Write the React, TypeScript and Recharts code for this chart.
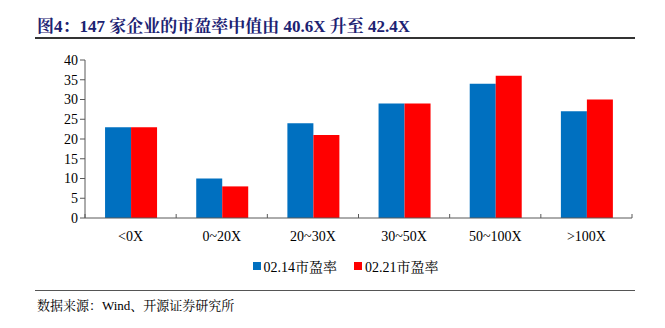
import { BarChart, Bar, XAxis, YAxis, Legend } from 'recharts'

const categories = ['<0X', '0~20X', '20~30X', '30~50X', '50~100X', '>100X']
const pe0214 = [23, 10, 24, 29, 34, 27]
const pe0221 = [23, 8, 21, 29, 36, 30]
const yTicks = [0, 5, 10, 15, 20, 25, 30, 35, 40]

const seriesNames = ['02.14市盈率', '02.21市盈率']
const BLUE = '#0070C0'
const RED = '#FF0000'
const AXIS = '#595959'
const SERIF = '"Times New Roman", "Liberation Serif", "Noto Serif CJK SC", "Noto Sans CJK SC", serif'

const data = categories.map((name, i) => ({ name, a: pe0214[i], b: pe0221[i] }))

// category label plus the small inward tick marks on the band edges
function CategoryTick(props: any) {
  const { x, y, payload, index } = props
  const half = payload.offset || 0
  const last = index === categories.length - 1
  return (
    <g>
      <line x1={x - half} x2={x - half} y1={y} y2={y - 4} stroke={AXIS} />
      {last && <line x1={x + half} x2={x + half} y1={y} y2={y - 4} stroke={AXIS} />}
      <text x={x} y={y + 23} textAnchor="middle" fill="#000" fontSize={14} fontFamily={SERIF}>
        {payload.value}
      </text>
    </g>
  )
}

function LegendContent() {
  const colors = [BLUE, RED]
  return (
    <div style={{ display: 'flex', justifyContent: 'center', gap: 17, fontFamily: SERIF, fontSize: 14, color: '#000', paddingLeft: 26 }}>
      {seriesNames.map((n, i) => (
        <span key={n} style={{ display: 'inline-flex', alignItems: 'center' }}>
          <span style={{ display: 'inline-block', width: 8, height: 8, background: colors[i], marginRight: 3 }} />
          {n}
        </span>
      ))}
    </div>
  )
}

export default function App() {
  return (
    <div style={{ position: 'absolute', left: 0, top: 0, width: 665, height: 328, background: '#fff', fontFamily: SERIF }}>
      <div style={{ position: 'absolute', left: 37, top: 12, fontSize: 17, fontWeight: 'bold', color: '#1C2272', whiteSpace: 'nowrap' }}>
        图4：147 家企业的市盈率中值由 40.6X 升至 42.4X
      </div>
      <div style={{ position: 'absolute', left: 35, top: 37, width: 600, height: 2, background: '#333' }} />
      <BarChart
        width={665}
        height={328}
        data={data}
        margin={{ top: 60, right: 33, bottom: 80, left: 40 }}
        barCategoryGap="22%"
        barGap={0}
      >
        <XAxis
          dataKey="name"
          height={30}
          interval={0}
          tickLine={false}
          tickSize={0}
          tickMargin={0}
          axisLine={{ stroke: AXIS }}
          tick={<CategoryTick />}
        />
        <YAxis
          width={45}
          domain={[0, 40]}
          ticks={yTicks}
          interval={0}
          axisLine={{ stroke: AXIS }}
          tickLine={{ stroke: AXIS }}
          tickSize={5}
          tick={{ fill: '#000', fontSize: 14, fontFamily: SERIF }}
        />
        <Legend verticalAlign="middle" align="center" wrapperStyle={{ top: 256, left: 0, width: 665 }} content={<LegendContent />} />
        <Bar dataKey="a" name={seriesNames[0]} fill={BLUE} isAnimationActive={false} />
        <Bar dataKey="b" name={seriesNames[1]} fill={RED} isAnimationActive={false} />
      </BarChart>
      <div style={{ position: 'absolute', left: 35, top: 290, width: 600, height: 1, background: '#555' }} />
      <div style={{ position: 'absolute', left: 37, top: 295, fontSize: 13, color: '#000', whiteSpace: 'nowrap' }}>
        数据来源：Wind、开源证券研究所
      </div>
    </div>
  )
}
